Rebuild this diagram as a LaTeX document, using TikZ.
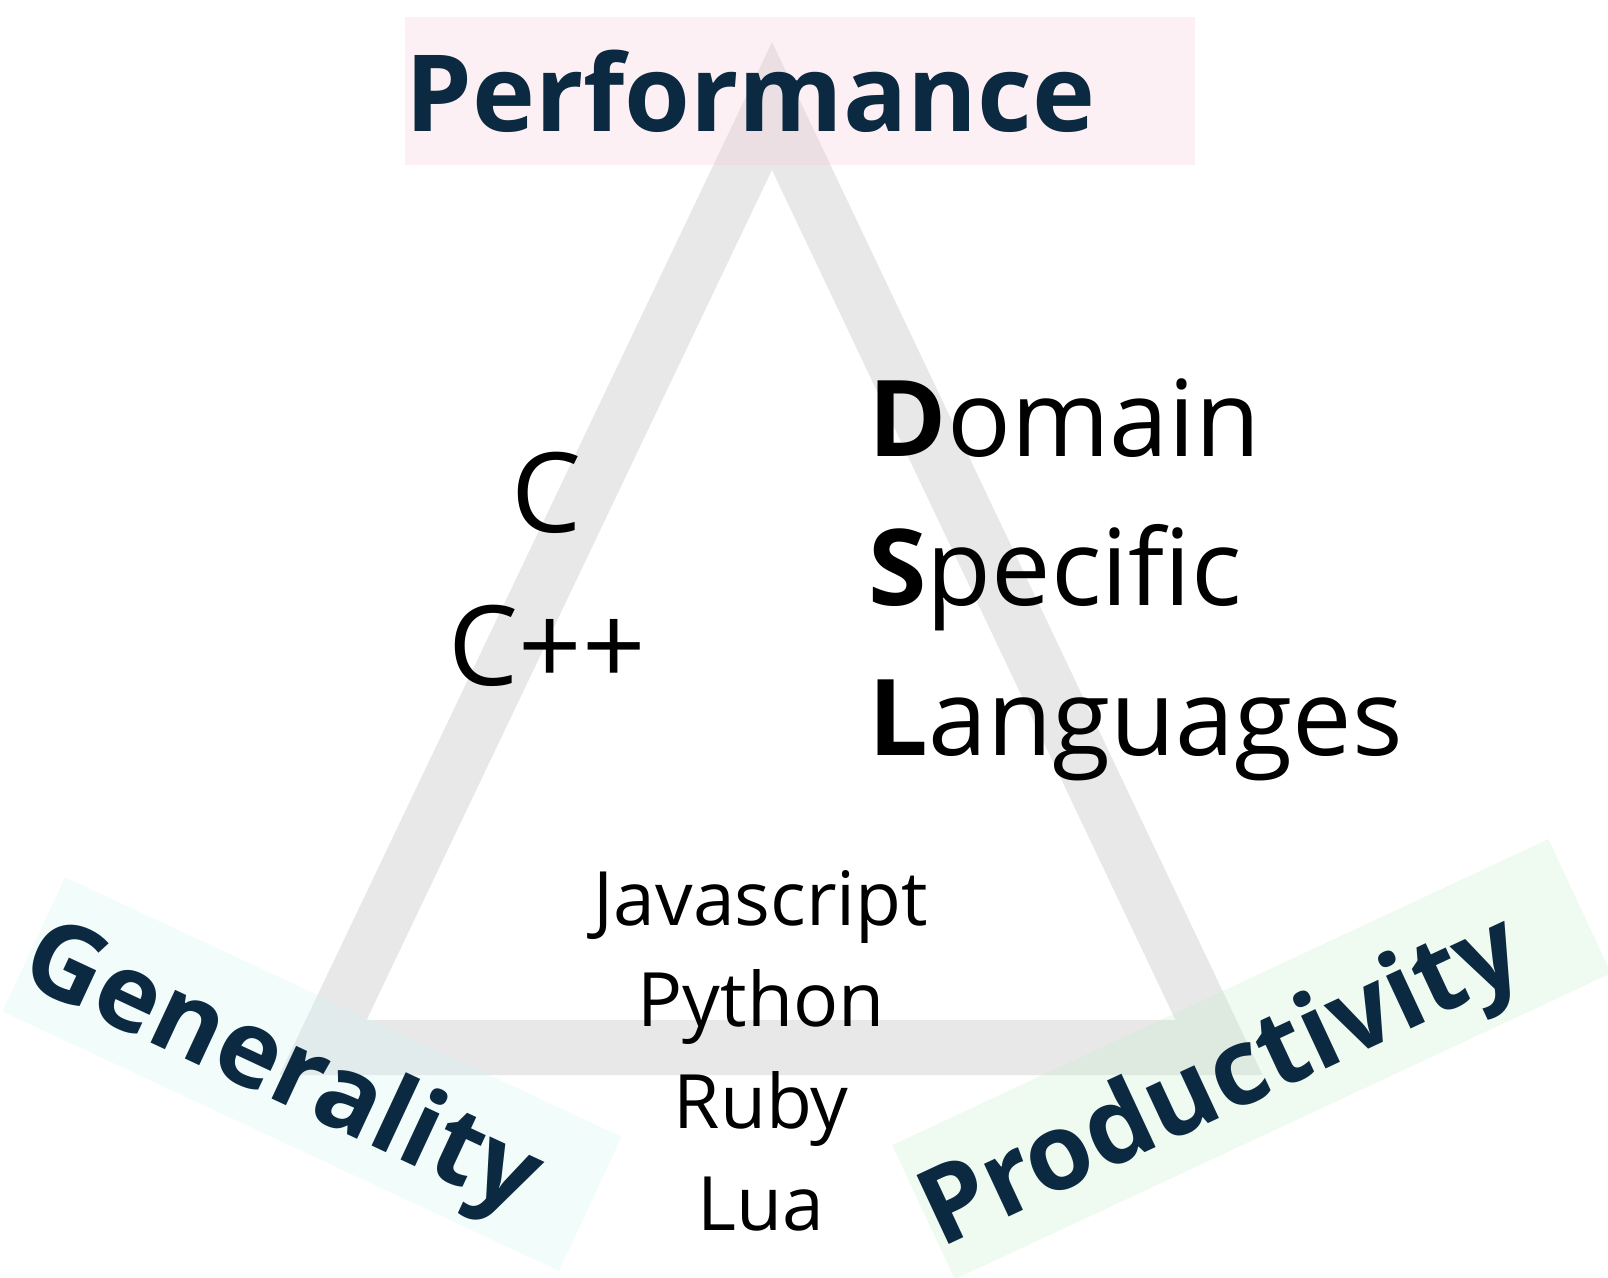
\documentclass[tikz,border=0pt]{standalone}
\usepackage{fontspec}
\setmainfont{Open Sans}

\definecolor{navy}{RGB}{11,41,64}
\definecolor{trigray}{RGB}{232,232,232}
\definecolor{perfbg}{RGB}{248,205,218}
\definecolor{genbg}{RGB}{212,245,242}
\definecolor{prodbg}{RGB}{202,238,205}

\tikzset{
  corner/.style={fill=#1, fill opacity=0.3, text opacity=1, text=navy,
    font=\fontsize{106.5}{120}\selectfont\bfseries, anchor=north west,
    inner xsep=0pt, inner ysep=0pt, minimum height=148pt,
    text height=85pt, text depth=5pt, align=left},
  lang/.style={font=\fontsize{111}{130}\selectfont, anchor=base},
  dsl/.style={font=\fontsize{106}{130}\selectfont, anchor=base west},
  script/.style={font=\fontsize{75}{90}\selectfont, anchor=base},
}

\begin{document}
\begin{tikzpicture}[x=1pt,y=-1pt]
\useasboundingbox (0,0) rectangle (1608,1277);
% the trade-off triangle
\draw[trigray, line width=55pt, line join=miter] (772,106) -- (323,1047.5) -- (1219,1047.5) -- cycle;

% corner labels
\node[corner=perfbg, text width=790pt] (perf) at (405,17) {Performance};
\node[corner=genbg, text width=614pt, rotate=-25] (gen) at (65,877) {Generality};
\node[corner=prodbg, text width=724pt, rotate=25] (prod) at (892,1145) {Productivity};

% languages inside
\node[lang] (c) at (547,532) {C};
\node[lang] (cpp) at (547,685) {C++};

\node[dsl] (domain) at (865,456) {\textbf{D}omain};
\node[dsl] (specific) at (865,605) {\textbf{S}pecific};
\node[dsl] (languages) at (865,755) {\textbf{L}anguages};

\foreach \name [count=\i from 0] in {Javascript,Python,Ruby,Lua}
  \node[script] (script\i) at (761,{925+101.7*\i}) {\name};
\end{tikzpicture}
\end{document}
